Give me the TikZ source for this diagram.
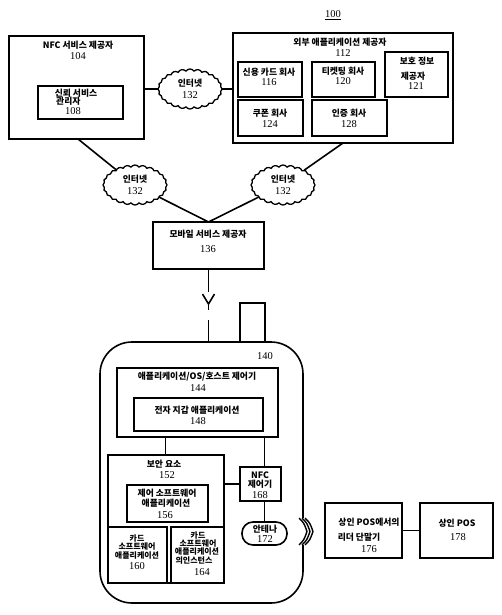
\documentclass[tikz,border=0pt]{standalone}
\usepackage{fontspec}
\newfontfamily\kr{Noto Sans CJK KR}
\newfontfamily\nm{Liberation Serif}
\usetikzlibrary{shapes.symbols,calc}
\tikzset{
 box/.style={draw, line width=1.6pt, inner sep=0pt, outer sep=0pt},
 kt/.style={font=\kr\bfseries\fontsize{8.8}{10}\selectfont, inner sep=0pt},
 ks/.style={font=\kr\bfseries\fontsize{8}{9}\selectfont, inner sep=0pt},
 nt/.style={font=\nm\fontsize{10.5}{11}\selectfont, inner sep=0pt},
 net/.style={cloud, draw, cloud puffs=24, cloud puff arc=110, aspect=1.6, line width=1.3pt, minimum width=64pt, minimum height=40pt, inner sep=0pt, outer sep=0pt},
 ln/.style={line width=1.6pt},
 chev/.style={line width=1.4pt},
}
\newcommand\mkbox[6][]{\node[box,#1,minimum width={(#5-#3)*1pt}, minimum height={(#6-#4)*1pt}] (#2) at ({(#3+#5)/2},{(#4+#6)/2}) {};}
\begin{document}
\begin{tikzpicture}[x=1pt,y=-1pt]
\useasboundingbox (0,0) rectangle (502,615);
% 100
\node[nt] (ref) at (333,15) {\underline{100}};
% NFC service provider
\mkbox{nfc}{9}{36}{144}{139}
\node[kt] (t104) at (78,45) {NFC 서비스 제공자};
\node[nt] (n104) at (78,56) {104};
\mkbox{tsm}{38}{86}{123}{119}
\node[kt] (t108a) at (76,93) {신뢰 서비스};
\node[kt,anchor=west] (t108b) at (56,101) {관리자};
\node[nt] (n108) at (73,111) {108};
% external application provider
\mkbox{ext}{233}{33}{453}{143}
\node[kt] (t112) at (340,42) {외부 애플리케이션 제공자};
\node[nt] (n112) at (343,53) {112};
\mkbox{cc}{238}{62}{302}{97}
\node[kt] (t116) at (269,72) {신용 카드 회사};
\node[nt] (n116) at (269,82) {116};
\mkbox{tk}{312}{62}{375}{97}
\node[kt] (t120) at (343,71) {티켓팅 회사};
\node[nt] (n120) at (343,81) {120};
\mkbox{pi}{385}{52}{448}{97}
\node[kt] (t121a) at (417,61) {보호 정보};
\node[kt] (t121b) at (413,76) {제공자};
\node[nt] (n121) at (416,86) {121};
\mkbox{cp}{238}{100}{303}{136}
\node[kt] (t124) at (270,113) {쿠폰 회사};
\node[nt] (n124) at (270,124) {124};
\mkbox{au}{312}{100}{387}{136}
\node[kt] (t128) at (349,113) {인증 회사};
\node[nt] (n128) at (349,124) {128};
% clouds
\node[net] (ct) at (190,89) {};
\node[kt] (tct) at (190,83) {인터넷};
\node[nt] (nct) at (190,95) {132};
\node[net] (cl) at (135,185) {};
\node[kt] (tcl) at (135,179) {인터넷};
\node[nt] (ncl) at (135,191) {132};
\node[net] (cr) at (283,185) {};
\node[kt] (tcr) at (283,179) {인터넷};
\node[nt] (ncr) at (283,191) {132};
% mobile service provider
\mkbox{mob}{153}{222}{264}{269}
\node[kt] (t136) at (208,234) {모바일 서비스 제공자};
\node[nt] (n136) at (208,249) {136};
% connectors
\draw[ln] (nfc.east |- ct) -- (ct.west);
\draw[ln] (ct.east) -- (ct -| ext.west);
\draw[ln] ($(nfc.south west)+(69,0)$) -- (cl);
\draw[ln] ($(ext.south west)+(110,0)$) -- (cr);
\draw[ln] (cl) -- (mob.north);
\draw[ln] (cr) -- (mob.north);
% phone
\mkbox[rounded corners=32pt]{phone}{100}{342}{303}{603}
\mkbox{cam}{240}{303}{265}{342}
\coordinate (yb) at (208.5,304);
\draw[ln] (mob.south) -- ++(0,23);
\draw[ln] (202.5,294) -- (yb) -- (214.5,294);
\draw[ln] (yb) -- ++(0,6);
\draw[ln] (yb |- phone.north) -- ++(0,-22);
\node[nt] (n140) at (265,356) {140};
% host
\mkbox{host}{117}{368}{278}{437}
\node[kt] (t144) at (197,377) {애플리케이션/OS/호스트 제어기};
\node[nt] (n144) at (198,388) {144};
\mkbox{wal}{134}{398}{263}{431}
\node[kt] (t148) at (197,410) {전자 지갑 애플리케이션};
\node[nt] (n148) at (198,421) {148};
% secure element
\mkbox{se}{108}{455}{224}{583}
\node[kt] (t152) at (164,464) {보안 요소};
\node[nt] (n152) at (167,475) {152};
\mkbox{csw}{127}{485}{208}{522}
\node[kt] (t156a) at (167,493) {제어 소프트웨어};
\node[kt] (t156b) at (166,503.5) {애플리케이션};
\node[nt] (n156) at (165,515) {156};
\mkbox{card}{108}{527}{167}{583}
\node[ks] (t160a) at (137,538) {카드};
\node[ks] (t160b) at (137,547) {소프트웨어};
\node[ks] (t160c) at (137,556) {애플리케이션};
\node[nt] (n160) at (137,566) {160};
\mkbox{inst}{171}{527}{224}{583}
\node[ks] (t164a) at (198,535) {카드};
\node[ks] (t164b) at (198,543.5) {소프트웨어};
\node[ks] (t164c) at (197,552) {애플리케이션};
\node[ks] (t164d) at (194,561) {의인스턴스};
\node[nt] (n164) at (202,572) {164};
% NFC controller and antenna
\mkbox{nfcc}{240}{467}{281}{501}
\node[kt] (t168a) at (260,475) {NFC};
\node[kt] (t168b) at (260,484.5) {제어기};
\node[nt] (n168) at (260,495) {168};
\mkbox[rounded corners=11pt]{ant}{242}{522}{287}{545}
\node[kt] (t172) at (265,529) {안테나};
\node[nt] (n172) at (265,539) {172};
\draw[ln] (host.south -| se.north) ++(-0.5,0) coordinate (h1) -- (h1 |- se.north);
\draw[ln] (host.south -| ant.north) -- (nfcc.north -| ant.north);
\draw[ln] (nfcc.south -| ant.north) -- (ant.north);
\draw[ln] (nfcc.west) -- (nfcc.west -| se.east);
% chevrons on phone edge
\fill[white] (300,518) rectangle (307.5,545);
\foreach \dx in {0,3,6}{
  \draw[chev] (299+\dx,518) .. controls (304+\dx,523) .. (307+\dx,531.5) .. controls (304+\dx,540) .. (299+\dx,545);
}
% reader and POS
\mkbox{rd}{325}{503}{402}{558}
\node[kt] (t176a) at (369,522) {상인 POS에서의};
\node[kt] (t176b) at (359,537) {리더 단말기};
\node[nt] (n176) at (369,549) {176};
\mkbox{pos}{420}{503}{493}{558}
\node[kt] (t178) at (457,523) {상인 POS};
\node[nt] (n178) at (458,537) {178};
\draw[ln] (rd.east) -- (pos.west);
\end{tikzpicture}
\end{document}
